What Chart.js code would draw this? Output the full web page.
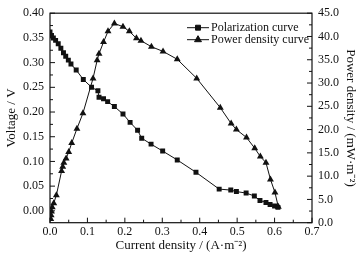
<!DOCTYPE html>
<html>
<head>
<meta charset="utf-8">
<script src="https://cdn.jsdelivr.net/npm/chart.js@4.4.1/dist/chart.umd.min.js"></script>
<style>
  html,body{margin:0;padding:0;background:#fff;}
  #wrap{width:362px;height:253px;position:relative;}
</style>
</head>
<body>
<div id="wrap"><canvas id="myChart" width="362" height="253"></canvas></div>
<script>
// polarization curve: current density (A/m2) vs voltage (V)
var pol_x=[0.000,0.004,0.009,0.015,0.022,0.029,0.036,0.042,0.049,0.056,0.070,0.089,0.111,0.128,0.131,0.143,0.154,0.172,0.195,0.214,0.234,0.245,0.270,0.301,0.340,0.390,0.452,0.483,0.498,0.524,0.546,0.561,0.577,0.588,0.600,0.609];
var pol_v=[0.362,0.355,0.350,0.345,0.338,0.329,0.320,0.313,0.305,0.297,0.285,0.266,0.250,0.243,0.230,0.227,0.221,0.211,0.196,0.179,0.163,0.147,0.135,0.121,0.103,0.078,0.044,0.042,0.039,0.036,0.030,0.021,0.017,0.013,0.010,0.007];
// power density curve: current density (A/m2) vs power density (mW/m2)
var pow_x=[0.002,0.003,0.004,0.006,0.010,0.017,0.031,0.034,0.037,0.043,0.050,0.058,0.072,0.088,0.115,0.126,0.131,0.143,0.155,0.172,0.195,0.212,0.231,0.243,0.271,0.302,0.340,0.392,0.455,0.484,0.498,0.525,0.547,0.562,0.577,0.589,0.601,0.610];
var pow_p=[0.8,1.6,2.4,3.3,4.2,5.9,11.1,12.0,12.9,13.8,15.2,17.1,20.2,23.5,31.0,34.9,36.3,38.8,41.1,42.8,42.1,41.1,39.6,39.1,37.8,36.8,35.1,31.0,24.7,21.3,20.0,18.3,16.0,14.2,12.9,9.3,6.5,3.4];

var x_ticks=[0,0.1,0.2,0.3,0.4,0.5,0.6,0.7];
var v_ticks=[0,0.05,0.10,0.15,0.20,0.25,0.30,0.35,0.40];
var p_ticks=[0,5,10,15,20,25,30,35,40,45];

var pol_pts=[];
for(var i in pol_x){ pol_pts.push({x:pol_x[i],y:pol_v[i]}); }
var pow_pts=[];
for(var j in pow_x){ pow_pts.push({x:pow_x[j],y:pow_p[j]}); }

var serif="'Liberation Serif','Times New Roman',serif";
var ink="#111";

function setTicks(list){
  return function(scale){ scale.ticks=list.map(function(v){return {value:v};}); };
}

// frame, inward major/minor ticks and legend inside plot
var framePlugin={
  id:'frame',
  afterDatasetsDraw:function(chart){
    var ctx=chart.ctx, a=chart.chartArea;
    ctx.save();
    ctx.strokeStyle=ink;
    ctx.lineWidth=1.2;
    ctx.strokeRect(a.left,a.top,a.right-a.left,a.bottom-a.top);
    ctx.lineWidth=1;
    function ticks(scale,list,horiz,side){
      var step=list[1]-list[0];
      for(var k=0;k<list.length*2-1;k++){
        var v=list[0]+k*step/2;
        if(v<scale.min-1e-9||v>scale.max+1e-9) continue;
        var len=(k%2===0)?5:3;
        var p=scale.getPixelForValue(v);
        ctx.beginPath();
        if(horiz){ ctx.moveTo(p,a.bottom); ctx.lineTo(p,a.bottom-len); }
        else if(side==='left'){ ctx.moveTo(a.left,p); ctx.lineTo(a.left+len,p); }
        else { ctx.moveTo(a.right,p); ctx.lineTo(a.right-len,p); }
        ctx.stroke();
      }
    }
    ticks(chart.scales.x,x_ticks,true);
    ticks(chart.scales.y,v_ticks,false,'left');
    ticks(chart.scales.y2,p_ticks,false,'right');

    // legend
    ctx.font="12px "+serif;
    ctx.fillStyle=ink;
    ctx.textBaseline='middle';
    chart.data.datasets.forEach(function(ds,n){
      var yy=a.top+14.5+n*12;
      var x0=a.right-125;
      ctx.beginPath(); ctx.moveTo(x0,yy); ctx.lineTo(x0+22,yy); ctx.stroke();
      Chart.helpers.drawPoint(ctx,{pointStyle:ds.pointStyle,radius:ds.pointRadius,borderWidth:1},x0+11,yy);
      ctx.fillText(ds.label,x0+24,yy+0.5);
    });
    ctx.restore();
  }
};

var ctx=document.getElementById('myChart');
var chart=new Chart(ctx,{
  type:'line',
  data:{
    datasets:[
      {
        label:'Polarization curve',
        data:pol_pts,
        yAxisID:'y',
        borderColor:ink,
        backgroundColor:ink,
        borderWidth:1,
        pointStyle:'rect',
        pointRadius:3.5,
        pointBorderWidth:0,
        tension:0
      },
      {
        label:'Power density curve',
        data:pow_pts,
        yAxisID:'y2',
        borderColor:ink,
        backgroundColor:ink,
        borderWidth:1,
        pointStyle:'triangle',
        pointRadius:4,
        pointBorderWidth:0,
        tension:0
      }
    ]
  },
  options:{
    responsive:false,
    animation:false,
    devicePixelRatio:1,
    layout:{padding:{top:10,left:0,right:0,bottom:0}},
    plugins:{legend:{display:false},tooltip:{enabled:false}},
    scales:{
      x:{
        type:'linear',
        min:0,max:0.7,
        afterBuildTicks:setTicks(x_ticks),
        afterFit:function(s){ s.height=30.3; },
        grid:{display:false,drawTicks:false},
        border:{display:false},
        ticks:{padding:2,color:ink,font:{family:serif,size:12},callback:function(v){return v.toFixed(1);}},
        title:{display:true,text:'Current density / (A·m⁻²)',color:ink,font:{family:serif,size:13},padding:{top:0,bottom:0}}
      },
      y:{
        type:'linear',
        position:'left',
        min:-0.024,max:0.40,
        afterBuildTicks:setTicks(v_ticks),
        afterFit:function(s){ s.width=50; },
        grid:{display:false,drawTicks:false},
        border:{display:false},
        ticks:{padding:6,color:ink,font:{family:serif,size:12},callback:function(v){return v.toFixed(2);}},
        title:{display:true,text:'Voltage / V',color:ink,font:{family:serif,size:13},padding:{top:4,bottom:0}}
      },
      y2:{
        type:'linear',
        position:'right',
        min:0,max:45,
        afterBuildTicks:setTicks(p_ticks),
        afterFit:function(s){ s.width=50; },
        grid:{display:false,drawTicks:false},
        border:{display:false},
        ticks:{padding:6,color:ink,font:{family:serif,size:12},callback:function(v){return v.toFixed(1);}},
        title:{display:true,text:'Power density / (mW·m⁻²)',color:ink,font:{family:serif,size:13},padding:{top:4,bottom:0}}
      }
    }
  },
  plugins:[framePlugin]
});
</script>
</body>
</html>
